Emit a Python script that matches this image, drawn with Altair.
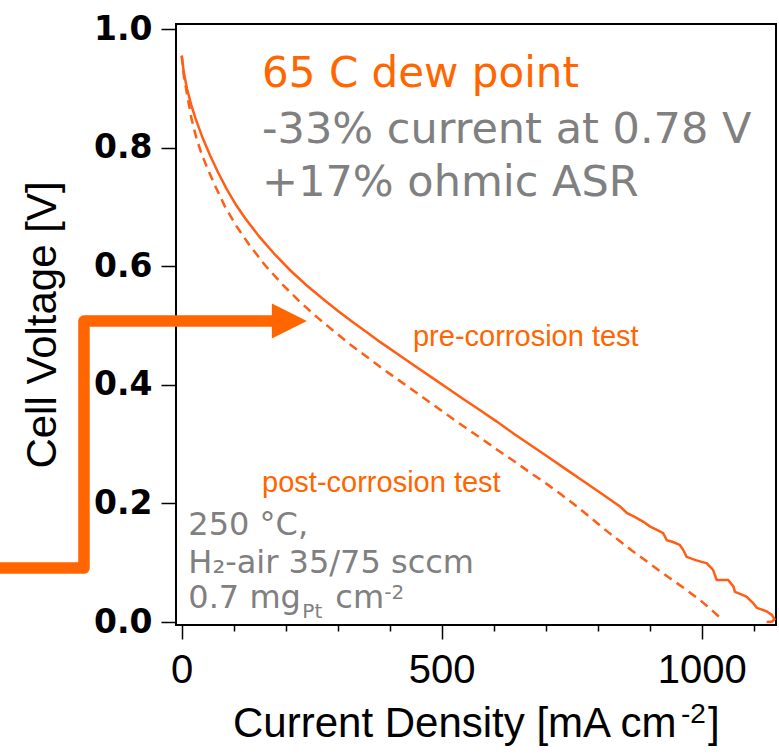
import altair as alt
import pandas as pd

# Polarization curve, pre-corrosion test (current density in mA/cm2, cell voltage in V)
pre_current = [0, 4, 10, 18, 27, 40, 54, 70, 86, 104, 122, 150, 180, 210, 240, 270, 300,
               330, 360, 382, 420, 450, 480, 510, 540, 574, 606, 638, 670, 702, 740, 770,
               805, 843, 856, 872, 888, 901, 915, 926, 933, 945, 958, 965, 971, 990, 1010,
               1022, 1029, 1040, 1051, 1061, 1064, 1075, 1086, 1099, 1106, 1125, 1135,
               1140, 1136, 1125]
pre_voltage = [0.955, 0.927, 0.900, 0.873, 0.848, 0.817, 0.788, 0.758, 0.731, 0.704, 0.681,
               0.649, 0.619, 0.592, 0.568, 0.546, 0.525, 0.505, 0.486, 0.472, 0.449, 0.431,
               0.413, 0.395, 0.377, 0.357, 0.338, 0.318, 0.299, 0.280, 0.257, 0.239, 0.218,
               0.195, 0.184, 0.177, 0.169, 0.161, 0.155, 0.150, 0.138, 0.135, 0.130, 0.121,
               0.110, 0.104, 0.099, 0.088, 0.071, 0.071, 0.071, 0.060, 0.051, 0.047, 0.043,
               0.032, 0.024, 0.018, 0.012, 0.005, 0.001, 0.000]

# Polarization curve, post-corrosion test
post_current = [0, 4, 10, 19, 28, 38, 50, 64, 83, 105, 130, 160, 195, 225, 255, 285, 324,
                352, 382, 414, 446, 478, 510, 542, 574, 606, 638, 670, 702, 730, 760, 785,
                811, 830, 849, 865, 881, 907, 939, 971, 997, 1022, 1041]
post_voltage = [0.955, 0.922, 0.891, 0.848, 0.817, 0.790, 0.764, 0.736, 0.701, 0.668, 0.636,
                0.602, 0.568, 0.542, 0.518, 0.496, 0.468, 0.450, 0.430, 0.410, 0.390, 0.370,
                0.350, 0.330, 0.311, 0.291, 0.272, 0.252, 0.233, 0.215, 0.195, 0.177, 0.158,
                0.145, 0.132, 0.121, 0.111, 0.094, 0.074, 0.054, 0.037, 0.018, 0.003]

x_ticks = list(range(0, 1101, 100))
y_ticks = [0.0, 0.2, 0.4, 0.6, 0.8, 1.0]
x_domain = [-11, 1143]
y_domain = [-0.005, 1.0085]

# Callout arrow path (data units) and arrow head position
arrow_x = [-370, -188, -188, 190]
arrow_y = [0.091, 0.091, 0.5076, 0.5076]
arrow_head = [207, 0.5076]

# Annotation texts with anchor positions (data units)
header_lines = ["65 C dew point", "-33% current at 0.78 V", "+17% ohmic ASR"]
header_y = [0.903, 0.808, 0.718]
header_x = 154.6
cond_lines = ["250 \u00b0C,", "H\u2082-air 35/75 sccm", "0.7 mg"]
cond_y = [0.147, 0.083, 0.024]
cond_x = 12.7

ORANGE = "#ff6600"
LINE_ORANGE = "#ff5e14"
GRAY = "#808080"

x_scale = alt.Scale(domain=x_domain, nice=False, zero=False)
y_scale = alt.Scale(domain=y_domain, nice=False, zero=False)

x_axis = alt.Axis(
    values=x_ticks, format="d",
    labelExpr="datum.value % 500 === 0 ? datum.label : ''",
    tickSize={"condition": {"test": "datum.value % 500 === 0", "value": 14}, "value": 6},
    tickColor="black", tickWidth=1.5, domain=False, grid=False,
    labelFont="Liberation Sans", labelFontSize=40, labelColor="black", labelPadding=11,
    title=None,
)
y_axis = alt.Axis(
    values=y_ticks, format=".1f", tickSize=15, tickColor="black", tickWidth=1.5,
    domain=False, grid=False,
    labelFont="DejaVu Sans", labelFontWeight="bold", labelFontSize=33,
    labelColor="black", labelPadding=9,
    title="Cell Voltage [V]", titleFont="Liberation Sans", titleFontSize=42,
    titleFontWeight="normal", titleColor="black", titleAngle=270,
    titleX=-121, titleY=300.5, titleAlign="center", titleBaseline="alphabetic",
)

X = alt.X("x:Q", scale=x_scale, axis=x_axis)
Y = alt.Y("y:Q", scale=y_scale, axis=y_axis)

pre_df = pd.DataFrame({"x": pre_current, "y": pre_voltage, "i": range(len(pre_current))})
post_df = pd.DataFrame({"x": post_current, "y": post_voltage, "i": range(len(post_current))})

pre_line = alt.Chart(pre_df).mark_line(color=LINE_ORANGE, strokeWidth=2.5).encode(
    x=X, y=Y, order="i:Q",
)
post_line = alt.Chart(post_df).mark_line(
    color=LINE_ORANGE, strokeWidth=2.5, strokeDash=[9, 6]
).encode(x=X, y=Y, order="i:Q")

arrow_df = pd.DataFrame({"x": arrow_x, "y": arrow_y, "i": range(len(arrow_x))})
arrow_line = alt.Chart(arrow_df).mark_line(
    color=ORANGE, strokeWidth=11.5, strokeJoin="round", strokeCap="butt", clip=False
).encode(x=X, y=Y, order="i:Q")
head_df = pd.DataFrame({"x": [arrow_head[0]], "y": [arrow_head[1]]})
arrow_tip = alt.Chart(head_df).mark_point(
    shape="M-1,-1L1,0L-1,1Z", size=1225, filled=True, color=ORANGE, opacity=1,
    strokeWidth=0,
).encode(x=X, y=Y)


def label(texts, xs, ys, color, font, size, dx=0, dy=0):
    df = pd.DataFrame({"x": xs, "y": ys, "t": texts})
    return alt.Chart(df).mark_text(
        align="left", baseline="alphabetic", color=color, font=font,
        fontSize=size, dx=dx, dy=dy, clip=False,
    ).encode(x=X, y=Y, text="t:N")


header_1 = label(header_lines[:1], [header_x], header_y[:1], ORANGE, "DejaVu Sans", 42)
header_2 = label(header_lines[1:], [header_x] * 2, header_y[1:], GRAY, "DejaVu Sans", 43)
pre_label = label(["pre-corrosion test"], [444.8], [0.465], ORANGE, "Liberation Sans", 29)
post_label = label(["post-corrosion test"], [154.6], [0.219], ORANGE, "Liberation Sans", 29)
cond = label(cond_lines, [cond_x] * 3, cond_y, GRAY, "DejaVu Sans", 32)
cond_sub = label(["Pt"], [cond_x], [cond_y[2]], GRAY, "DejaVu Sans", 20, dx=114, dy=10)
cond_cm = label(["cm"], [cond_x], [cond_y[2]], GRAY, "DejaVu Sans", 32, dx=147)
cond_sup = label(["-2"], [cond_x], [cond_y[2]], GRAY, "DejaVu Sans", 20, dx=196, dy=-9)


def title_piece(text, px, py, size):
    return alt.Chart(pd.DataFrame({"t": [text]})).mark_text(
        align="left", baseline="alphabetic", color="black", font="Liberation Sans",
        fontSize=size, clip=False,
    ).encode(x=alt.value(px), y=alt.value(py), text="t:N")


x_title = title_piece("Current Density [mA cm", 57, 713, 42)
x_title_sup = title_piece("-2", 505, 699, 28)
x_title_end = title_piece("]", 532, 713, 42)

chart = alt.layer(
    pre_line, post_line, arrow_line, arrow_tip,
    header_1, header_2, pre_label, post_label,
    cond, cond_sub, cond_cm, cond_sup,
    x_title, x_title_sup, x_title_end,
).properties(
    width=600, height=601,
    autosize=alt.AutoSizeParams(type="none"),
    padding={"left": 176, "top": 24, "right": 3, "bottom": 130},
    background="white",
).configure_view(stroke="black", strokeWidth=2)

chart.save("out.html", embed_options={"renderer": "svg", "actions": False})
